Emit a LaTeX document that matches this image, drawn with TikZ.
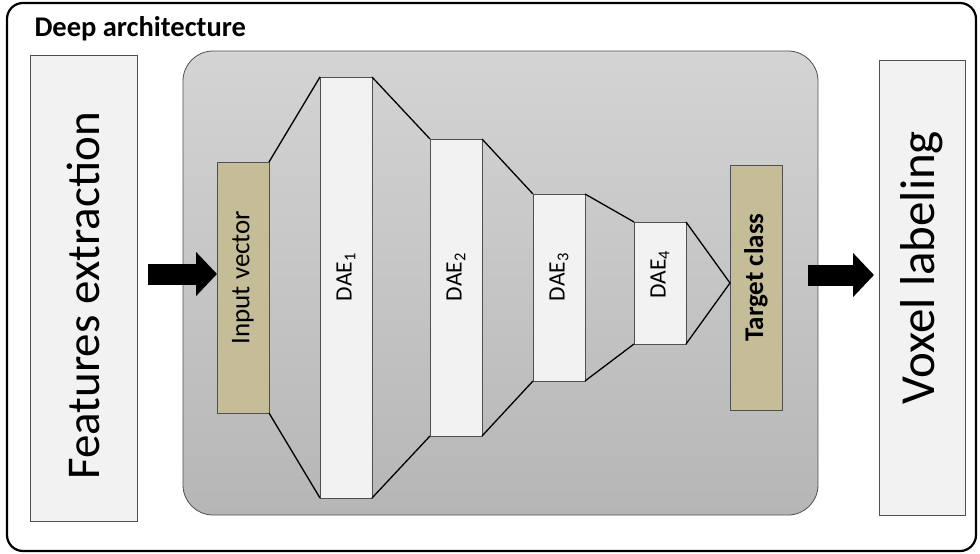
\documentclass[tikz,border=0pt]{standalone}
\usepackage{fontspec}
\setmainfont{Carlito}
\usetikzlibrary{arrows.meta}
\definecolor{boxgray}{HTML}{F2F2F2}
\definecolor{tan}{HTML}{C4BD97}
\definecolor{edgegray}{HTML}{505050}
\definecolor{shadetop}{HTML}{D4D4D4}
\definecolor{shadebot}{HTML}{B6B6B6}
\newcommand{\fsz}[1]{\fontsize{#1}{#1}\selectfont}
% rotated text; #1 = space before, #2 = space after
\newcommand{\vtext}[3]{\rotatebox{90}{\hspace*{#1}#3\hspace*{#2}}}

\begin{document}
\begin{tikzpicture}[x=1pt,y=-1pt,
  box/.style={draw=edgegray,fill=boxgray,line width=0.8pt,inner sep=0pt,outer sep=0pt},
  layer/.style={box,minimum width=52pt,font=\fsz{23.5}},
  io/.style={box,fill=tan,minimum width=52pt,font=\fsz{27}},
  link/.style={line width=1.3pt},
  bigarrow/.style={line width=21pt,-{Triangle[length=21pt,width=43pt]}}]
\useasboundingbox (0,0) rectangle (980,554);
\draw[line width=2.2pt,rounded corners=16pt] (7,3) rectangle (976,551);
\node[anchor=base west,font=\bfseries\fsz{28.5}] (title) at (31,36) {Deep architecture};

\node[box,minimum width=107pt,minimum height=466pt,font=\fsz{47}] (feat) at (83.5,288) {\vtext{0pt}{16pt}{Features extraction}};
\node[box,minimum width=86pt,minimum height=455pt,font=\fsz{49}] (voxel) at (922,287.5) {\vtext{40pt}{0pt}{Voxel labeling}};
\node[box,rounded corners=30pt,top color=shadetop,bottom color=shadebot,minimum width=635pt,minimum height=464pt] (deep) at (500.5,283) {};

\node[io,minimum height=251pt] (input) at (243,287.5) {\vtext{20pt}{0pt}{Input vector}};
\node[layer,minimum height=421pt] (dae1) at (346,287.5) {\vtext{21pt}{0pt}{DAE\textsubscript{1}}};
\node[layer,minimum height=297pt] (dae2) at (456,287.5) {\vtext{21pt}{0pt}{DAE\textsubscript{2}}};
\node[layer,minimum height=187pt] (dae3) at (559,287.5) {\vtext{21pt}{0pt}{DAE\textsubscript{3}}};
\node[layer,minimum height=122pt] (dae4) at (660,283) {\vtext{17pt}{0pt}{DAE\textsubscript{4}}};
\node[io,minimum height=245pt] (target) at (756,287.5) {\vtext{20pt}{0pt}{\bfseries Target class}};

\draw[link] (input.north east) -- (dae1.north west);
\draw[link] (input.south east) -- (dae1.south west);
\foreach \a/\b in {dae1/dae2,dae2/dae3,dae3/dae4}{
  \draw[link] (\a.north east) -- (\b.north west);
  \draw[link] (\a.south east) -- (\b.south west);
}
\coordinate (apex) at ([yshift=4.5pt]target.west);
\draw[link] (dae4.north east) -- (apex) -- (dae4.south east);

\coordinate (inleft) at ([xshift=11pt,yshift=14pt]feat.east);
\draw[bigarrow] (inleft) -- (inleft -| input.west);
\coordinate (outleft) at ([xshift=26pt,yshift=12.5pt]target.east);
\draw[bigarrow] (outleft) -- ([xshift=-5pt]outleft -| voxel.west);
\end{tikzpicture}
\end{document}
